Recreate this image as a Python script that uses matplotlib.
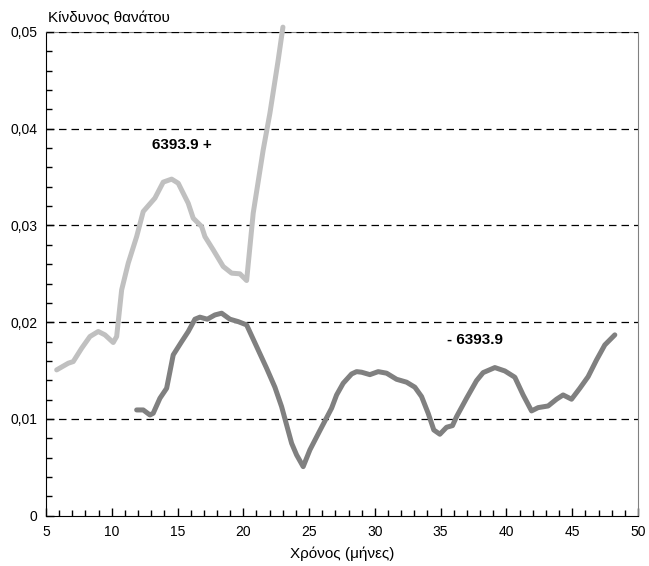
import numpy as np
import matplotlib.pyplot as plt
from matplotlib.ticker import MultipleLocator, FuncFormatter

plt.rcParams['font.family'] = ['Liberation Sans', 'DejaVu Sans']

# upper group (6393.9 +)
x_hi = [5.81, 6.69, 7.07, 7.71, 8.34, 8.97, 9.48, 10.11, 10.37, 10.75, 11.25, 11.89,
        12.39, 13.28, 13.91, 14.55, 15.05, 15.81, 16.19, 16.83, 17.08, 17.71, 18.47,
        19.11, 19.74, 20.25, 20.75, 21.51, 22.02, 22.65, 23.01]
y_hi = [0.01507, 0.01576, 0.01593, 0.01731, 0.01852, 0.01904, 0.01869, 0.01790, 0.01852,
        0.02334, 0.02610, 0.02885, 0.03144, 0.03283, 0.03448, 0.03479, 0.03437, 0.03230,
        0.03075, 0.02989, 0.02885, 0.02748, 0.02576, 0.02507, 0.02500, 0.02431, 0.03127,
        0.03781, 0.04160, 0.04710, 0.05050]

# lower group (- 6393.9)
x_lo = [11.89, 12.39, 12.90, 13.15, 13.66, 14.17, 14.42, 14.67, 15.31, 15.81, 16.32,
        16.70, 17.26, 17.84, 18.35, 18.98, 19.61, 20.25, 21.01, 21.77, 22.40, 22.91,
        23.29, 23.67, 24.05, 24.55, 25.06, 25.82, 26.71, 27.09, 27.59, 28.23, 28.61,
        28.99, 29.62, 30.25, 30.89, 31.65, 32.41, 33.04, 33.55, 34.05, 34.48, 34.94,
        35.45, 35.90, 36.21, 36.97, 37.73, 38.23, 39.12, 39.88, 40.64, 41.27, 41.91,
        42.41, 43.17, 43.81, 44.31, 44.95, 45.58, 46.21, 46.85, 47.48, 48.24]
y_lo = [0.01093, 0.01093, 0.01041, 0.01059, 0.01214, 0.01317, 0.01489, 0.01662, 0.01799,
        0.01903, 0.02031, 0.02052, 0.02031, 0.02075, 0.02093, 0.02031, 0.02006, 0.01972,
        0.01748, 0.01524, 0.01328, 0.01127, 0.00938, 0.00749, 0.00628, 0.00507, 0.00680,
        0.00880, 0.01111, 0.01248, 0.01369, 0.01465, 0.01489, 0.01483, 0.01458, 0.01489,
        0.01473, 0.01410, 0.01380, 0.01328, 0.01231, 0.01059, 0.00886, 0.00842, 0.00914,
        0.00931, 0.01024, 0.01214, 0.01396, 0.01479, 0.01531, 0.01496, 0.01431, 0.01248,
        0.01083, 0.01117, 0.01134, 0.01204, 0.01248, 0.01204, 0.01317, 0.01437, 0.01610,
        0.01765, 0.01869]

fig = plt.figure(figsize=(6.49, 5.66), dpi=100)
ax = fig.add_axes([0.0709, 0.0889, 0.9121, 0.8546])

ax.plot(x_hi, y_hi, color='#c0c0c0', lw=3.6, solid_capstyle='round',
        solid_joinstyle='round', clip_on=False, zorder=3)
ax.plot(x_lo, y_lo, color='#808080', lw=3.6, solid_capstyle='round',
        solid_joinstyle='round', zorder=3)

ax.set_xlim(5, 50)
ax.set_ylim(0, 0.05)
ax.xaxis.set_major_locator(MultipleLocator(5))
ax.xaxis.set_minor_locator(MultipleLocator(1))
ax.yaxis.set_major_locator(MultipleLocator(0.01))
ax.yaxis.set_minor_locator(MultipleLocator(0.002))
ax.yaxis.set_major_formatter(FuncFormatter(
    lambda v, p: '0' if abs(v) < 1e-9 else f'{v:.2f}'.replace('.', ',')))

ax.tick_params(which='both', direction='in', top=False, right=False,
               labelsize=10, color='black', width=1)
ax.tick_params(which='major', length=6)
ax.tick_params(which='minor', length=4)
ax.tick_params(axis='x', which='major', pad=7)
ax.tick_params(axis='y', which='major', pad=6)

# dashed reference lines; the top one sits over the frame
for yv in [0.01, 0.02, 0.03, 0.04, 0.05]:
    ax.axhline(yv, color='black', lw=0.9, ls=(0, (6, 4)),
               zorder=2.6 if yv == 0.05 else 2)

ax.spines['top'].set_color('#808080')
ax.spines['right'].set_color('#808080')

ax.text(15.3, 0.0383, '6393.9 +', fontsize=11, fontweight='bold',
        ha='center', va='center')
ax.text(37.6, 0.0182, '- 6393.9', fontsize=11, fontweight='bold',
        ha='center', va='center')

ax.set_xlabel('Χρόνος (μήνες)', fontsize=11, labelpad=5)
fig.text(0.074, 0.968, 'Κίνδυνος θανάτου', fontsize=11, ha='left', va='center')

plt.savefig('out.png', dpi=100)
